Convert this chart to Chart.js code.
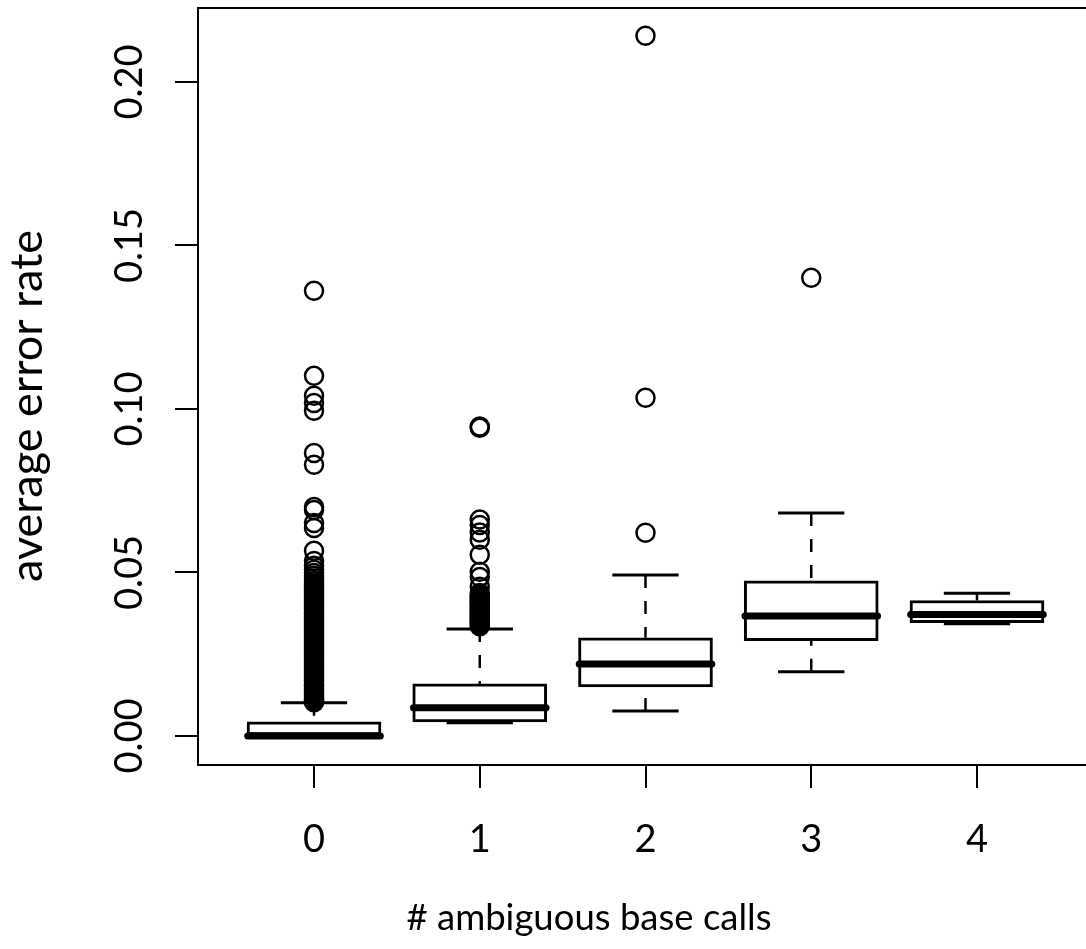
<!DOCTYPE html>
<html><head><meta charset="utf-8">
<script src="https://cdn.jsdelivr.net/npm/chart.js@4.4.0/dist/chart.umd.min.js"></script>
<style>html,body{margin:0;padding:0;background:#fff;overflow:hidden}canvas{display:block}</style>
</head><body>
<canvas id="c" width="1100" height="949"></canvas>
<script>
const categories = ['0', '1', '2', '3', '4'];
const q1          = [0.0000, 0.0043, 0.0150, 0.0291, 0.0346];
const median      = [0.0000, 0.0086, 0.0220, 0.0367, 0.0371];
const q3          = [0.0043, 0.0159, 0.0300, 0.0474, 0.0414];
const whiskerLow  = [0.0000, 0.0040, 0.0076, 0.0196, 0.0343];
const whiskerHigh = [0.0101, 0.0327, 0.0492, 0.0682, 0.0436];
const outliers0 = [0.1361, 0.1101, 0.1040, 0.1018, 0.0994, 0.0865, 0.0829, 0.0700, 0.0691, 0.0651, 0.0636,
  0.0566, 0.0535, 0.0520, 0.0508, 0.0498, 0.0490, 0.0481, 0.0474,
  0.0466, 0.0461, 0.0456, 0.0451, 0.0446, 0.0441, 0.0436, 0.0431, 0.0426, 0.0421, 0.0416, 0.0411,
  0.0406, 0.0401, 0.0396, 0.0391, 0.0386, 0.0381, 0.0376, 0.0371, 0.0366, 0.0361, 0.0356, 0.0351,
  0.0346, 0.0341, 0.0336, 0.0331, 0.0326, 0.0321, 0.0316, 0.0311, 0.0306, 0.0301, 0.0296, 0.0291,
  0.0286, 0.0281, 0.0276, 0.0271, 0.0266, 0.0261, 0.0256, 0.0251, 0.0246, 0.0241, 0.0236, 0.0231,
  0.0226, 0.0221, 0.0216, 0.0211, 0.0206, 0.0201, 0.0196, 0.0191, 0.0186, 0.0181, 0.0176, 0.0171,
  0.0166, 0.0161, 0.0156, 0.0151, 0.0146, 0.0141, 0.0136, 0.0131, 0.0126, 0.0121, 0.0116, 0.0112,
  0.0108, 0.0105, 0.0103];
const outliers1 = [0.0942, 0.0946, 0.0662, 0.0645, 0.0622, 0.0600, 0.0554, 0.0502, 0.0486, 0.0456, 0.0437,
  0.0430, 0.0425, 0.0420, 0.0415, 0.0410, 0.0405, 0.0400, 0.0395, 0.0390, 0.0385, 0.0380, 0.0375,
  0.0370, 0.0365, 0.0360, 0.0355, 0.0350, 0.0345, 0.0340, 0.0335];
const outliers2 = [0.2141, 0.1034, 0.0621];
const outliers3 = [0.1401];
const outliers4 = [];
const yTicks = [0.00, 0.05, 0.10, 0.15, 0.20];
const yTickLabels = ['0.00', '0.05', '0.10', '0.15', '0.20'];
const xTitle = '# ambiguous base calls';
const yTitle = 'average error rate';

const outliers = [outliers0, outliers1, outliers2, outliers3, outliers4];
const idx = categories.map((c, i) => i);

const boxData = idx.map(i => ({x: i, y: [q1[i], q3[i]]}));
const medianData = idx.flatMap(i => [{x: i - 0.4, y: median[i]}, {x: i + 0.4, y: median[i]}, {x: i + 0.5, y: null}]);
const whiskerData = idx.flatMap(i => [
  {x: i, y: whiskerHigh[i]}, {x: i, y: q3[i]}, {x: i, y: null},
  {x: i, y: whiskerLow[i]}, {x: i, y: q1[i]}, {x: i, y: null}]);
const stapleData = idx.flatMap(i => [
  {x: i - 0.2, y: whiskerHigh[i]}, {x: i + 0.2, y: whiskerHigh[i]}, {x: i + 0.3, y: null},
  {x: i - 0.2, y: whiskerLow[i]}, {x: i + 0.2, y: whiskerLow[i]}, {x: i + 0.3, y: null}]);
const outlierData = idx.flatMap(i => outliers[i].map(v => ({x: i, y: v})));

const FONT = 'Lato';

const decor = {
  id: 'decor',
  afterDraw(chart) {
    const {ctx, chartArea: a, scales: {x, y}} = chart;
    ctx.save();
    ctx.strokeStyle = '#000';
    ctx.lineWidth = 2;
    ctx.strokeRect(a.left, a.top, a.right - a.left, a.bottom - a.top);
    ctx.fillStyle = '#000';
    ctx.font = '38px ' + FONT;
    ctx.textAlign = 'center';
    ctx.textBaseline = 'alphabetic';
    yTicks.forEach((v, k) => {
      ctx.save();
      ctx.translate(142, y.getPixelForValue(v));
      ctx.rotate(-Math.PI / 2);
      ctx.fillText(yTickLabels[k], 0, 0);
      ctx.restore();
    });
    categories.forEach((c, i) => {
      ctx.fillText(c, x.getPixelForValue(i), 852);
    });
    ctx.font = '36.5px ' + FONT;
    ctx.fillText(xTitle, 589, 930);
    ctx.font = '45px ' + FONT;
    ctx.save();
    ctx.translate(42, 406);
    ctx.rotate(-Math.PI / 2);
    ctx.fillText(yTitle, 0, 0);
    ctx.restore();
    ctx.restore();
  }
};

new Chart(document.getElementById('c'), {
  type: 'bar',
  data: {
    datasets: [
      {type: 'line', data: whiskerData, borderColor: '#000', borderWidth: 2.5, borderDash: [13, 13],
       pointRadius: 0, spanGaps: false, order: 5},
      {type: 'line', data: stapleData, borderColor: '#000', borderWidth: 3,
       pointRadius: 0, spanGaps: false, order: 4},
      {type: 'bar', data: boxData, backgroundColor: '#fff', borderColor: '#000', borderWidth: 3,
       borderSkipped: false, barThickness: 134, order: 3},
      {type: 'line', data: medianData, borderColor: '#000', borderWidth: 7, borderCapStyle: 'round',
       pointRadius: 0, spanGaps: false, order: 2},
      {type: 'scatter', data: outlierData, pointStyle: 'circle', pointRadius: 9, pointBorderWidth: 2.5,
       pointBackgroundColor: 'rgba(0,0,0,0)', pointBorderColor: '#000', order: 1}
    ]
  },
  options: {
    responsive: false,
    devicePixelRatio: 1,
    animation: false,
    events: [],
    layout: {autoPadding: false, padding: {top: 8, right: 7, left: 0, bottom: 0}},
    plugins: {legend: {display: false}, tooltip: {enabled: false}},
    scales: {
      x: {
        type: 'linear', min: -0.7, max: 4.7, offset: false,
        afterBuildTicks: s => { s.ticks = idx.map(i => ({value: i})); },
        afterFit: s => { s.height = 184; },
        ticks: {display: false},
        grid: {display: true, drawOnChartArea: false, drawTicks: true, tickLength: 23, color: '#000', lineWidth: 2, offset: false},
        border: {display: true, color: '#000', width: 2}
      },
      y: {
        type: 'linear', min: -0.0089, max: 0.2226,
        afterBuildTicks: s => { s.ticks = yTicks.map(v => ({value: v})); },
        afterFit: s => { s.width = 198; },
        ticks: {display: false},
        grid: {display: true, drawOnChartArea: false, drawTicks: true, tickLength: 23, color: '#000', lineWidth: 2},
        border: {display: true, color: '#000', width: 2}
      }
    }
  },
  plugins: [decor]
});
</script>
</body></html>
